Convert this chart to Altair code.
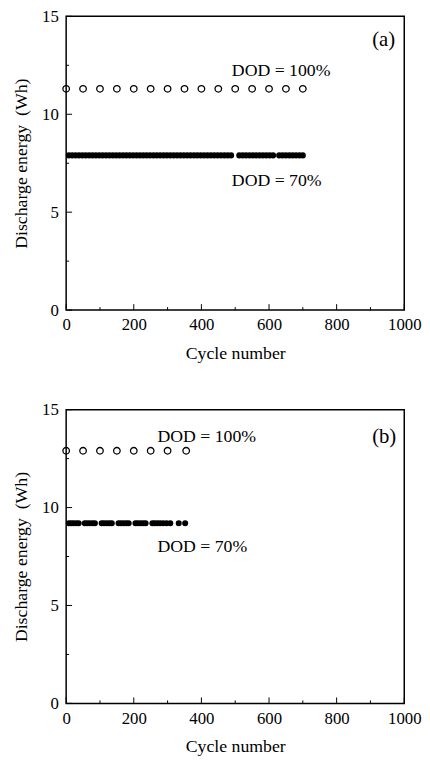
import altair as alt
import pandas as pd

FONT = "Liberation Serif"

# ---------------- data ----------------
# Panel (a)
a_x100 = [0, 50, 100, 150, 200, 250, 300, 350, 400, 450, 500, 550, 600, 650, 700]
a_y100 = [11.3, 11.3, 11.3, 11.3, 11.3, 11.3, 11.3, 11.3, 11.3, 11.3, 11.3, 11.3, 11.3, 11.3, 11.3]
a_x70 = [8, 18, 28, 38, 48, 58, 68, 78, 88, 98, 108, 118, 128, 138, 148, 158, 168, 178,
         188, 198, 208, 218, 228, 238, 248, 258, 268, 278, 288, 298, 308, 318, 328, 338,
         348, 358, 368, 378, 388, 398, 408, 418, 428, 438, 448, 458, 468, 478, 488,
         512, 522, 532, 542, 552, 562, 572, 582, 592, 602, 612,
         630, 640, 650, 660, 670, 680, 690, 700]
a_y70 = [7.9, 7.9, 7.9, 7.9, 7.9, 7.9, 7.9, 7.9, 7.9, 7.9, 7.9, 7.9, 7.9, 7.9, 7.9, 7.9, 7.9, 7.9,
         7.9, 7.9, 7.9, 7.9, 7.9, 7.9, 7.9, 7.9, 7.9, 7.9, 7.9, 7.9, 7.9, 7.9, 7.9, 7.9,
         7.9, 7.9, 7.9, 7.9, 7.9, 7.9, 7.9, 7.9, 7.9, 7.9, 7.9, 7.9, 7.9, 7.9, 7.9,
         7.9, 7.9, 7.9, 7.9, 7.9, 7.9, 7.9, 7.9, 7.9, 7.9, 7.9,
         7.9, 7.9, 7.9, 7.9, 7.9, 7.9, 7.9, 7.9]

# Panel (b)
b_x100 = [0, 50, 100, 150, 200, 250, 300, 355]
b_y100 = [12.9, 12.9, 12.9, 12.9, 12.9, 12.9, 12.9, 12.9]
b_x70 = [8, 15, 22, 30, 37, 55, 62, 70, 78, 85, 105, 112, 120, 128, 135, 155, 162, 170,
         178, 185, 205, 212, 220, 228, 235, 255, 262, 270, 278, 287, 297, 308, 333, 352]
b_y70 = [9.2, 9.2, 9.2, 9.2, 9.2, 9.2, 9.2, 9.2, 9.2, 9.2, 9.2, 9.2, 9.2, 9.2, 9.2, 9.2, 9.2, 9.2,
         9.2, 9.2, 9.2, 9.2, 9.2, 9.2, 9.2, 9.2, 9.2, 9.2, 9.2, 9.2, 9.2, 9.2, 9.2, 9.2]

# annotations: text, x, y
a_labels = ["(a)", "DOD = 100%", "DOD = 70%"]
a_lab_x = [905, 490, 490]
a_lab_y = [13.8, 12.2, 6.6]
b_labels = ["(b)", "DOD = 100%", "DOD = 70%"]
b_lab_x = [905, 270, 270]
b_lab_y = [13.6, 13.6, 8.0]
lab_size = [21, 18, 18]

# tick values
x_major = [0, 200, 400, 600, 800, 1000]
x_minor = [100, 300, 500, 700, 900]
y_major = [0, 5, 10, 15]
y_minor = [2.5, 7.5, 12.5]

W, H = 343, 298


def panel(x100, y100, x70, y70, labels, lab_x, lab_y):
    xs = alt.Scale(domain=[0, 1000], nice=False)
    ys = alt.Scale(domain=[0, 15], nice=False)
    d100 = pd.DataFrame({"cycle": x100, "energy": y100})
    d70 = pd.DataFrame({"cycle": x70, "energy": y70})
    dlab = pd.DataFrame({"label": labels, "cycle": lab_x, "energy": lab_y, "size": lab_size})

    x_axis = alt.Axis(values=x_major, format="d", ticks=False, grid=False,
                      labelFont=FONT, labelFontSize=17, labelColor="black",
                      labelPadding=7, titleFont=FONT, titleFontSize=18,
                      titleFontWeight="normal", titleColor="black", titlePadding=12,
                      domain=False, labelFlush=False)
    y_axis = alt.Axis(values=y_major, format="d", ticks=False, grid=False,
                      labelFont=FONT, labelFontSize=17, labelColor="black",
                      labelPadding=8, titleFont=FONT, titleFontSize=18,
                      titleFontWeight="normal", titleColor="black", titlePadding=11,
                      domain=False, labelFlush=False)

    open_pts = alt.Chart(d100).mark_point(
        shape="circle", filled=False, color="black", size=44, strokeWidth=1.3, opacity=1
    ).encode(
        x=alt.X("cycle:Q", scale=xs, axis=x_axis, title="Cycle number"),
        y=alt.Y("energy:Q", scale=ys, axis=y_axis, title="Discharge energy\u00a0 (Wh)"),
    )
    filled_pts = alt.Chart(d70).mark_point(
        shape="circle", filled=True, color="black", size=38, opacity=1
    ).encode(
        x=alt.X("cycle:Q", scale=xs),
        y=alt.Y("energy:Q", scale=ys),
    )
    texts = alt.Chart(dlab).mark_text(
        font=FONT, color="black", align="left", baseline="middle"
    ).encode(
        x=alt.X("cycle:Q", scale=xs),
        y=alt.Y("energy:Q", scale=ys),
        text="label:N",
        size=alt.Size("size:Q", scale=None, legend=None),
    )

    def xticks(vals, ln):
        return alt.Chart(pd.DataFrame({"t": vals})).mark_rule(color="black", strokeWidth=1).encode(
            x=alt.X("t:Q", scale=xs),
            y=alt.value(H), y2=alt.value(H - ln),
        )

    def yticks(vals, ln):
        return alt.Chart(pd.DataFrame({"t": vals})).mark_rule(color="black", strokeWidth=1).encode(
            y=alt.Y("t:Q", scale=ys),
            x=alt.value(0), x2=alt.value(ln),
        )

    return alt.layer(
        open_pts, filled_pts, texts,
        xticks(x_major, 6), xticks(x_minor, 3),
        yticks(y_major, 6), yticks(y_minor, 3),
    ).properties(width=W, height=H)


pa = panel(a_x100, a_y100, a_x70, a_y70, a_labels, a_lab_x, a_lab_y)
pb = panel(b_x100, b_y100, b_x70, b_y70, b_labels, b_lab_x, b_lab_y)

chart = alt.vconcat(pa, pb, spacing=37).properties(
    padding={"left": 4, "top": -7, "right": 0, "bottom": 0},
    background="white",
).configure_view(
    stroke="black", strokeWidth=1.5
)

chart.save("out.html", embed_options={"renderer": "svg", "actions": False})
